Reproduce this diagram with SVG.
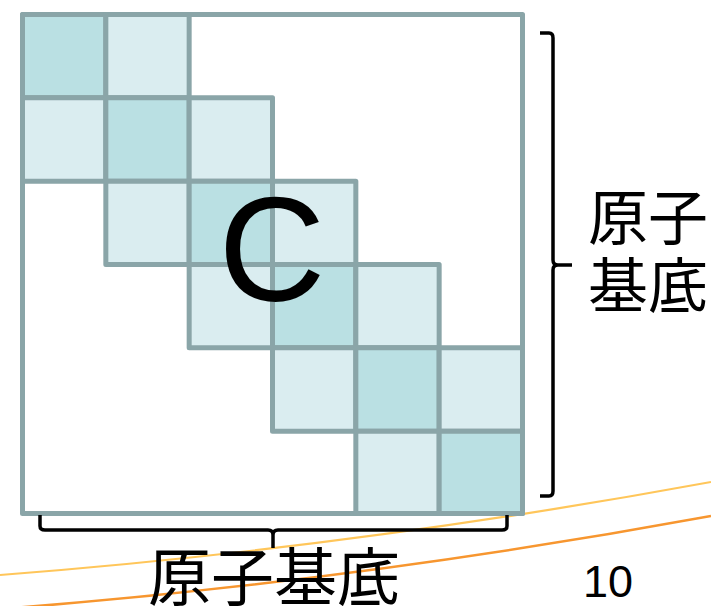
<svg xmlns="http://www.w3.org/2000/svg" width="711" height="606" viewBox="0 0 711 606">
<style>
.cell{stroke:#8AA5A8;stroke-width:5;stroke-linejoin:round}
.d{fill:#BAE0E3}
.l{fill:#DAEDF0}
.br{fill:none;stroke:#000;stroke-width:3.5;stroke-linecap:butt}
.cjk{font-family:"Noto Sans CJK JP","Noto Sans CJK SC",sans-serif;fill:#000}
</style>
<g id="decor">
<path d="M0,575 Q355,547.5 711,482" fill="none" stroke="#FFC65A" stroke-width="2.2"/>
<path d="M0,609 Q355,581.5 711,516" fill="none" stroke="#F7962F" stroke-width="2.6"/>
</g>
<g id="matrix">
<rect class="cell" x="22.5" y="14.5" width="500" height="499" fill="#FFFFFF"/>
<rect class="cell d" x="22.5" y="14.5" width="83.33" height="83.33"/>
<rect class="cell l" x="105.83" y="14.5" width="83.33" height="83.33"/>
<rect class="cell l" x="22.5" y="97.83" width="83.33" height="83.33"/>
<rect class="cell d" x="105.83" y="97.83" width="83.33" height="83.33"/>
<rect class="cell l" x="189.17" y="97.83" width="83.33" height="83.33"/>
<rect class="cell l" x="105.83" y="181.17" width="83.33" height="83.33"/>
<rect class="cell d" x="189.17" y="181.17" width="83.33" height="83.33"/>
<rect class="cell l" x="272.5" y="181.17" width="83.33" height="83.33"/>
<rect class="cell l" x="189.17" y="264.5" width="83.33" height="83.33"/>
<rect class="cell d" x="272.5" y="264.5" width="83.33" height="83.33"/>
<rect class="cell l" x="355.83" y="264.5" width="83.33" height="83.33"/>
<rect class="cell l" x="272.5" y="347.83" width="83.33" height="83.33"/>
<rect class="cell d" x="355.83" y="347.83" width="83.33" height="83.33"/>
<rect class="cell l" x="439.17" y="347.83" width="83.33" height="83.33"/>
<rect class="cell l" x="355.83" y="431.17" width="83.33" height="82.33"/>
<rect class="cell d" x="439.17" y="431.17" width="83.33" height="82.33"/>
<text x="272" y="301" font-family="Liberation Sans, Arial, sans-serif" font-size="148" text-anchor="middle" fill="#000">C</text>
</g>
<g id="bracket-right">
<path class="br" d="M540,33 H549 Q553,33 553,38 V260 Q553,265 558,265 H572 M558,265 Q553,265 553,270 V491 Q553,496 549,496 H540"/>
<text class="cjk" x="588" y="240" font-size="60">原子</text>
<text class="cjk" x="588" y="308" font-size="60">基底</text>
</g>
<g id="bracket-bottom">
<path class="br" d="M40,515 V526 Q40,530 45,530 H268 Q273,530 273,535 V548 M273,535 Q273,530 278,530 H502 Q507,530 507,526 V515"/>
<text class="cjk" x="274" y="600" font-size="63" text-anchor="middle">原子基底</text>
</g>
<g id="page-number">
<text x="583" y="597" font-family="Liberation Sans, Arial, sans-serif" font-size="45" fill="#000">10</text>
</g>
</svg>
